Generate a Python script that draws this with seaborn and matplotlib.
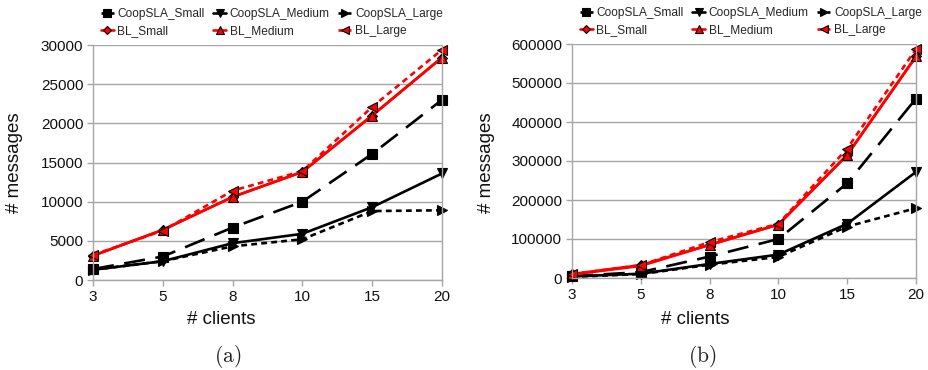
import matplotlib
matplotlib.use("Agg")
import matplotlib.pyplot as plt
import pandas as pd
import seaborn as sns

# ---------------- data ----------------
clients = ["3", "5", "8", "10", "15", "20"]
series_names = ["CoopSLA_Small", "CoopSLA_Medium", "CoopSLA_Large",
                "BL_Small", "BL_Medium", "BL_Large"]

a_coop_small = [1400, 3000, 6700, 10000, 16100, 23000]
a_coop_medium = [1300, 2400, 4700, 5900, 9300, 13600]
a_coop_large = [1300, 2400, 4300, 5200, 8800, 8900]
a_bl_small = [3100, 6400, 10600, 13800, 21000, 28400]
a_bl_medium = [3100, 6400, 10600, 13800, 21000, 28400]
a_bl_large = [3200, 6300, 11400, 13900, 22100, 29400]

b_coop_small = [5000, 15000, 55000, 100000, 243000, 460000]
b_coop_medium = [4000, 11000, 36000, 60000, 139000, 272000]
b_coop_large = [3000, 10000, 34000, 54000, 132000, 179000]
b_bl_small = [10000, 33000, 85000, 137000, 315000, 568000]
b_bl_medium = [9000, 31000, 85000, 137000, 316000, 568000]
b_bl_large = [10000, 33000, 92000, 139000, 332000, 587000]

y_ticks_a = [0, 5000, 10000, 15000, 20000, 25000, 30000]
y_ticks_b = [0, 100000, 200000, 300000, 400000, 500000, 600000]

panel_a = [a_coop_small, a_coop_medium, a_coop_large, a_bl_small, a_bl_medium, a_bl_large]
panel_b = [b_coop_small, b_coop_medium, b_coop_large, b_bl_small, b_bl_medium, b_bl_large]


def long_frame(values):
    rows = []
    for name, vals in zip(series_names, values):
        for c, v in zip(clients, vals):
            rows.append({"clients": c, "messages": v, "series": name})
    return pd.DataFrame(rows)


df_a = long_frame(panel_a)
df_b = long_frame(panel_b)

# ---------------- style ----------------
sns.set_theme(style="white")
plt.rcParams["font.family"] = ["Liberation Sans", "DejaVu Sans"]
plt.rcParams["mathtext.fontset"] = "cm"

RED = "#ff0000"
GRID = "#a6a6a6"
styles = {
    "CoopSLA_Small": dict(color="black", marker="s", linestyle=(0, (8, 4)), markersize=7),
    "CoopSLA_Medium": dict(color="black", marker="v", linestyle="-", markersize=7.5),
    "CoopSLA_Large": dict(color="black", marker=">", linestyle=(0, (2.2, 1.6)), markersize=7.5),
    "BL_Small": dict(color=RED, marker="D", linestyle="-", markersize=5.5),
    "BL_Medium": dict(color=RED, marker="^", linestyle="-", markersize=7.5),
    "BL_Large": dict(color=RED, marker="<", linestyle=(0, (2.2, 1.6)), markersize=7.5),
}

fig = plt.figure(figsize=(9.29, 3.70), dpi=100)
W, H = 929, 370
ax_a = fig.add_axes([93 / W, 1 - 280 / H, 349 / W, 235 / H])
ax_b = fig.add_axes([572 / W, 1 - 278 / H, 344 / W, 234 / H])


def draw(ax, df, yticks, ylab_x, xlab_x, tag_x, tag):
    for name in series_names:
        st = styles[name]
        sub = df[df["series"] == name]
        sns.lineplot(data=sub, x="clients", y="messages", ax=ax, sort=False,
                     errorbar=None, color=st["color"], marker=st["marker"],
                     linestyle=st["linestyle"], markersize=st["markersize"],
                     markeredgecolor="black", markeredgewidth=0.8,
                     linewidth=1.9, label=name, clip_on=False)
    ax.set_xlim(0, len(clients) - 1)
    ax.set_ylim(yticks[0], yticks[-1])
    ax.set_yticks(yticks)
    ax.ticklabel_format(axis="y", style="plain", useOffset=False)
    ax.set_xlabel("")
    ax.set_ylabel("")
    ax.grid(axis="y", color=GRID, linewidth=1.0)
    ax.grid(axis="x", visible=False)
    ax.set_axisbelow(True)
    for sp in ax.spines.values():
        sp.set_color(GRID)
        sp.set_linewidth(1.0)
    ax.spines["top"].set_visible(False)
    ax.tick_params(axis="both", which="major", direction="out", length=4,
                   width=1.0, color=GRID, labelsize=11, labelcolor="#111111", pad=3,
                   left=True, bottom=True)
    handles, labels = ax.get_legend_handles_labels()
    hmap = dict(zip(labels, handles))
    order = ["CoopSLA_Small", "BL_Small", "CoopSLA_Medium", "BL_Medium",
             "CoopSLA_Large", "BL_Large"]
    ax.legend([hmap[o] for o in order], order, ncol=3, loc="lower left",
              bbox_to_anchor=(0.0, 1.0), borderaxespad=0.65, frameon=False,
              fontsize=8.6, handlelength=1.1, handletextpad=0.3,
              columnspacing=0.7, labelspacing=0.4, borderpad=0.0,
              markerscale=0.75)
    fig.text(ylab_x / W, 1 - 163 / H, "# messages", rotation=90, ha="center",
             va="center", fontsize=13.5, color="#111111")
    fig.text(xlab_x / W, 1 - 320 / H, "# clients", ha="center", va="center",
             fontsize=13.5, color="#111111")
    fig.text(tag_x / W, 1 - 356 / H, r"$\mathrm{" + tag + "}$", ha="center",
             va="center", fontsize=15.5, color="#222222")


draw(ax_a, df_a, y_ticks_a, 14.5, 221, 228, "(a)")
draw(ax_b, df_b, y_ticks_b, 487, 695, 702, "(b)")

fig.savefig("out.png", dpi=100)
